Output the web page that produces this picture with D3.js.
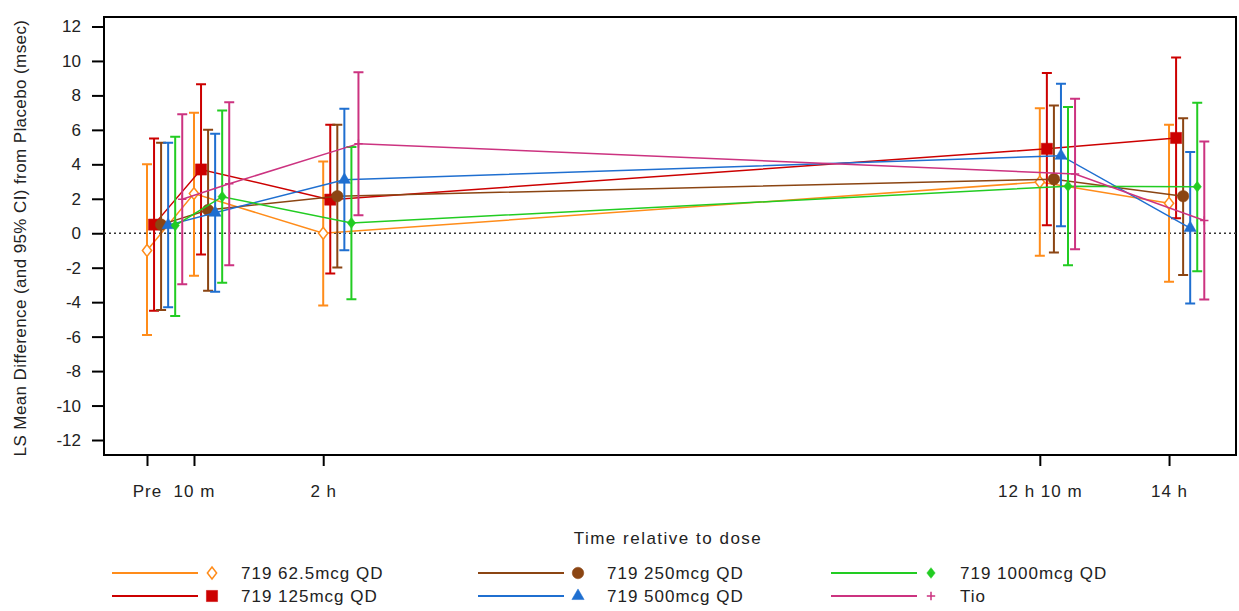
<!DOCTYPE html>
<html>
<head>
<meta charset="utf-8">
<script src="https://cdn.jsdelivr.net/npm/d3@7"></script>
<style>
  body { margin: 0; background: #fff; }
  text { font-family: Arial, "Liberation Sans", sans-serif; fill: #222; }
</style>
</head>
<body>
<script>
// time points (hours relative to dose)
var timeLabels = ["Pre", "10 m", "2 h", "12 h 10 m", "14 h"];
var timeHours = [-0.5, 0.1667, 2, 12.1667, 14];
var yTicks = [-12, -10, -8, -6, -4, -2, 0, 2, 4, 6, 8, 10, 12];

var seriesNames = ["719 62.5mcg QD", "719 125mcg QD", "719 250mcg QD", "719 500mcg QD", "719 1000mcg QD", "Tio"];
var seriesColors = ["#ff8c1a", "#cc0000", "#8b4513", "#1f6fd0", "#22cc22", "#cc3380"];

var mean62 = [-1.0, 2.3, 0.0, 2.97, 1.74];
var lo62 = [-5.9, -2.47, -4.2, -1.31, -2.82];
var hi62 = [4.0, 7.0, 4.17, 7.26, 6.3];

var mean125 = [0.5, 3.7, 1.95, 4.9, 5.53];
var lo125 = [-4.5, -1.24, -2.34, 0.46, 0.87];
var hi125 = [5.5, 8.64, 6.3, 9.3, 10.2];

var mean250 = [0.5, 1.35, 2.15, 3.14, 2.15];
var lo250 = [-4.46, -3.34, -1.99, -1.12, -2.43];
var hi250 = [5.25, 6.0, 6.3, 7.42, 6.68];

var mean500 = [0.47, 1.19, 3.1, 4.5, 0.3];
var lo500 = [-4.3, -3.4, -0.99, 0.4, -4.08];
var hi500 = [5.25, 5.78, 7.23, 8.68, 4.71];

var mean1000 = [0.45, 2.12, 0.6, 2.73, 2.7];
var lo1000 = [-4.8, -2.88, -3.83, -1.86, -2.2];
var hi1000 = [5.6, 7.13, 5.0, 7.32, 7.58];

var meanTio = [1.97, 2.87, 5.2, 3.44, 0.74];
var loTio = [-2.96, -1.86, 1.04, -0.93, -3.84];
var hiTio = [6.9, 7.6, 9.35, 7.8, 5.33];

var means = [mean62, mean125, mean250, mean500, mean1000, meanTio];
var lows = [lo62, lo125, lo250, lo500, lo1000, loTio];
var highs = [hi62, hi125, hi250, hi500, hi1000, hiTio];

var plusSymbol = {
  draw: function(c, size) {
    var r = Math.sqrt(size) / 2;
    c.moveTo(-r, 0); c.lineTo(r, 0);
    c.moveTo(0, -r); c.lineTo(0, r);
  }
};
// diamond a bit fatter than d3's
var diamondSymbol = {
  draw: function(c, size) {
    var h = Math.sqrt(size) / 2, w = h * 0.78;
    c.moveTo(0, -h); c.lineTo(w, 0); c.lineTo(0, h); c.lineTo(-w, 0); c.closePath();
  }
};
var symbolTypes = [diamondSymbol, d3.symbolSquare, d3.symbolCircle, d3.symbolTriangle, diamondSymbol, plusSymbol];
var symbolSizes = [140, 125, 105, 65, 115, 70];
var symbolFill = ["#fff", null, null, null, null, "none"];

var W = 1239, H = 611;
var plotL = 104, plotR = 1236, plotT = 17, plotB = 455;
var offset = 0.1; // hours between series

var svg = d3.select("body").append("svg").attr("width", W).attr("height", H);

var x = d3.scaleLinear().domain([-1.11, 14.95]).range([plotL, plotR]);
var y = d3.scaleLinear().domain([-12.87, 12.55]).range([plotB, plotT]);

// frame
svg.append("rect")
  .attr("x", plotL).attr("y", plotT)
  .attr("width", plotR - plotL).attr("height", plotB - plotT)
  .attr("fill", "none").attr("stroke", "#000").attr("stroke-width", 2);

// y axis
var yAxis = d3.axisLeft(y).tickValues(yTicks).tickFormat(function(d) { return String(d); })
  .tickSize(12).tickPadding(11);
var gy = svg.append("g").attr("transform", "translate(" + plotL + ",0)").call(yAxis);
gy.select(".domain").remove();
gy.selectAll(".tick line").attr("stroke", "#000").attr("stroke-width", 2);
gy.selectAll(".tick text").attr("font-size", 17).attr("fill", "#333");

// x axis
var xAxis = d3.axisBottom(x).tickValues(timeHours).tickFormat(function(d, i) { return timeLabels[i]; })
  .tickSize(11).tickPadding(19);
var gx = svg.append("g").attr("transform", "translate(0," + plotB + ")").call(xAxis);
gx.select(".domain").remove();
gx.selectAll(".tick line").attr("stroke", "#000").attr("stroke-width", 2);
gx.selectAll(".tick text").attr("font-size", 17).attr("letter-spacing", 1).attr("fill", "#333");

// titles
svg.append("text")
  .attr("transform", "translate(26," + ((plotT + plotB) / 2 + 2) + ") rotate(-90)")
  .attr("text-anchor", "middle").attr("font-size", 17).attr("letter-spacing", 0.4).attr("fill", "#333")
  .text("LS Mean Difference (and 95% CI) from Placebo (msec)");
svg.append("text")
  .attr("x", 668).attr("y", 544).attr("text-anchor", "middle")
  .attr("font-size", 17).attr("letter-spacing", 1.5).attr("fill", "#333")
  .text("Time relative to dose");

// zero reference
svg.append("line")
  .attr("x1", plotL).attr("x2", plotR).attr("y1", y(0)).attr("y2", y(0))
  .attr("stroke", "#333").attr("stroke-width", 1.3).attr("stroke-dasharray", "2,3");

var line = d3.line()
  .x(function(d) { return x(d.t); })
  .y(function(d) { return y(d.v); });

seriesNames.forEach(function(name, s) {
  var pts = timeHours.map(function(t, i) {
    return { t: t + s * offset, v: means[s][i], lo: lows[s][i], hi: highs[s][i] };
  });
  var g = svg.append("g");
  g.append("path").datum(pts)
    .attr("d", line).attr("fill", "none")
    .attr("stroke", seriesColors[s]).attr("stroke-width", 1.5);

  g.selectAll(".bar").data(pts).enter().append("path")
    .attr("d", function(d) {
      var cx = x(d.t), a = y(d.hi), b = y(d.lo), w = 5;
      return "M" + cx + "," + a + "V" + b +
        "M" + (cx - w) + "," + a + "H" + (cx + w) +
        "M" + (cx - w) + "," + b + "H" + (cx + w);
    })
    .attr("fill", "none").attr("stroke", seriesColors[s]).attr("stroke-width", 2);

  g.selectAll(".mk").data(pts).enter().append("path")
    .attr("transform", function(d) { return "translate(" + x(d.t) + "," + y(d.v) + ")"; })
    .attr("d", d3.symbol().type(symbolTypes[s]).size(symbolSizes[s]))
    .attr("fill", symbolFill[s] || seriesColors[s])
    .attr("stroke", seriesColors[s]).attr("stroke-width", s === 0 || s === 5 ? 1.5 : 0.5);
});

// legend
var legCols = [112, 478, 831];
var legRows = [573, 596];
seriesNames.forEach(function(name, s) {
  var lx = legCols[Math.floor(s / 2)], ly = legRows[s % 2];
  svg.append("line")
    .attr("x1", lx).attr("x2", lx + 86).attr("y1", ly).attr("y2", ly)
    .attr("stroke", seriesColors[s]).attr("stroke-width", 2);
  svg.append("path")
    .attr("transform", "translate(" + (lx + 100) + "," + ly + ")")
    .attr("d", d3.symbol().type(symbolTypes[s]).size(symbolSizes[s]))
    .attr("fill", symbolFill[s] || seriesColors[s])
    .attr("stroke", seriesColors[s]).attr("stroke-width", s === 0 || s === 5 ? 1.5 : 0.5);
  svg.append("text")
    .attr("x", lx + 129).attr("y", ly + 6).attr("font-size", 17).attr("letter-spacing", 1)
    .attr("fill", "#333")
    .text(name);
});
</script>
</body>
</html>
